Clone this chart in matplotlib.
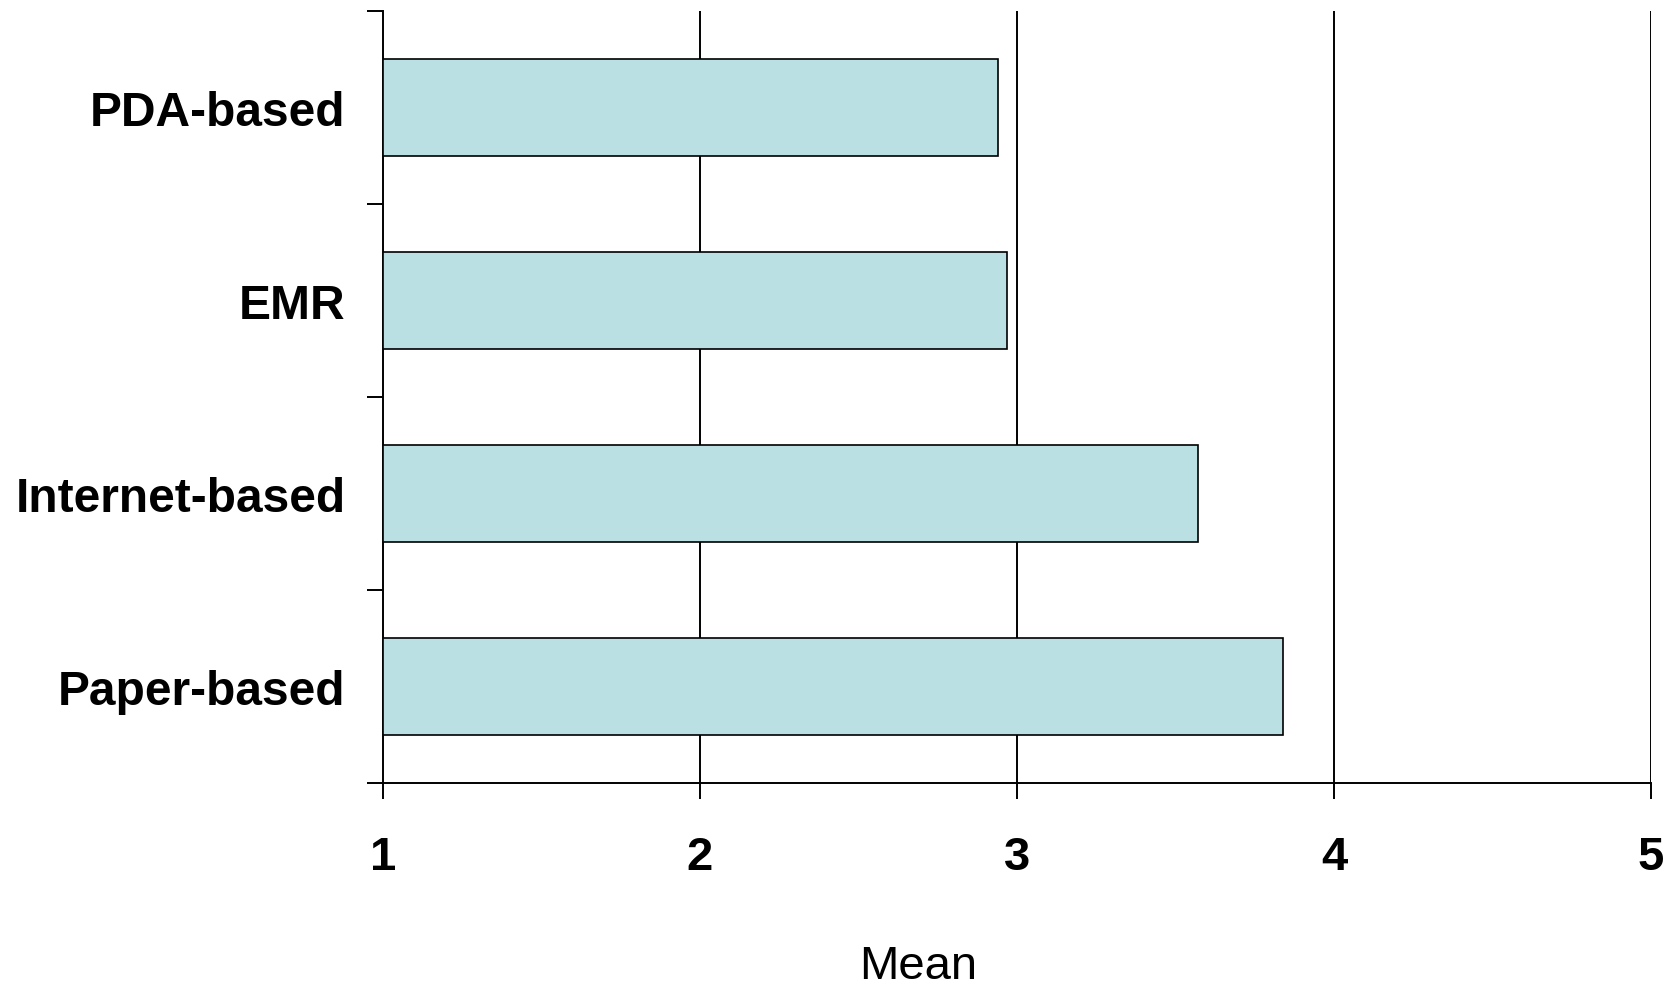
import matplotlib
matplotlib.use("Agg")
import matplotlib.pyplot as plt
import numpy as np

categories = ["PDA-based", "EMR", "Internet-based", "Paper-based"]
means = [2.94, 2.97, 3.57, 3.84]
xticks = [1, 2, 3, 4, 5]

plt.rcParams['font.family'] = ['Liberation Sans', 'DejaVu Sans']

fig = plt.figure(figsize=(16.79, 9.87), dpi=100)
ax = fig.add_axes([0.2281, 0.2057, 0.9833 - 0.2281, 0.98784 - 0.2057])

lw = 1.4
ypos = np.arange(len(categories))
base = xticks[0]
ax.barh(ypos, np.array(means) - base, left=base, height=0.5,
        color="#BBE0E3", edgecolor="black", linewidth=1.2, zorder=3)

ax.set_xlim(xticks[0], xticks[-1])
ax.set_ylim(len(categories) - 0.5, -0.5)

for x in xticks[1:]:
    ax.axvline(x, color="black", linewidth=lw, zorder=1)

ax.spines['top'].set_visible(False)
ax.spines['right'].set_visible(False)
ax.spines['left'].set_linewidth(lw)
ax.spines['bottom'].set_linewidth(lw)

ax.set_xticks(xticks)
ax.set_xticklabels([str(t) for t in xticks], fontsize=34, fontweight='bold')
ax.tick_params(axis='x', length=11.5, width=lw, pad=26, direction='out')

ax.set_yticks(np.arange(len(categories) + 1) - 0.5)
ax.set_yticklabels([])
ax.tick_params(axis='y', which='major', length=11.5, width=lw, direction='out')
ax.set_yticks(ypos, minor=True)
ax.set_yticklabels(categories, minor=True, fontsize=34.5, fontweight='bold')
ax.tick_params(axis='y', which='minor', length=0, pad=27)

ax.set_xlabel("Mean", fontsize=34, labelpad=47)
ax.xaxis.label.set_x(0.422)

fig.savefig("out.png", dpi=100)
